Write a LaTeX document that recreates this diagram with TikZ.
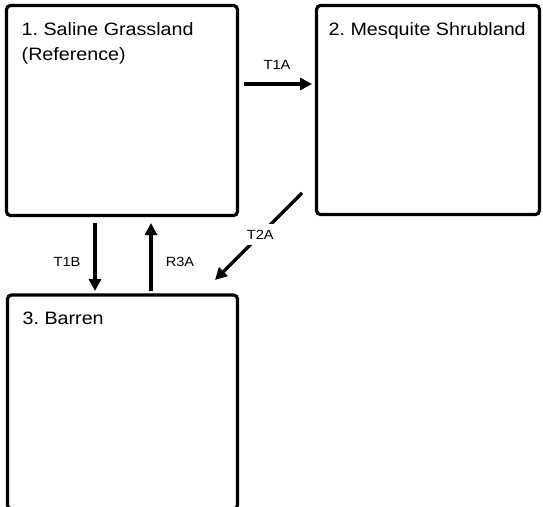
\documentclass[tikz,border=0pt]{standalone}
\usepackage{fontspec}
\setmainfont{Liberation Sans}[FakeStretch=1.1]
\usetikzlibrary{arrows.meta,positioning}
\frenchspacing

\begin{document}
\begin{tikzpicture}[
            x=1pt, y=-1pt,
            state/.style={
                    rectangle,
                    rounded corners=4pt,
                    draw=black,
                    line width=3.2pt,
                    inner sep=0pt,
                    outer sep=0pt
                },
            title/.style={
                    inner sep=0pt,
                    align=left,
                    font=\fontsize{17.9}{25}\selectfont
                },
            tlabel/.style={
                    inner sep=1pt,
                    font=\fontsize{13.3}{15}\selectfont
                },
            link/.style={
                    line width=3.2pt,
                    -{Triangle[length=12pt,width=12pt]}
                },
            node distance=16.5pt and 15pt
        ]

        \clip (0,0) rectangle (543,506);

        % states
        \node[state, minimum width=231pt, minimum height=210pt] (grass) at (122,110.5) {};
        \node[state, minimum width=223pt, minimum height=209pt] (shrub) at (428,110) {};
        \node[state, minimum width=230pt, minimum height=214pt] (barren) at (122.5,402) {};

        \node[title, below right=of grass.north west] (grasstitle) {1. Saline Grassland\\(Reference)};
        \node[title, below right=16.5pt and 12pt of shrub.north west] (shrubtitle) {2. Mesquite Shrubland};
        \node[title, below right=of barren.north west] (barrentitle) {3. Barren};

        % transitions
        \coordinate (t1a start) at (244,84);
        \coordinate (t1a end) at (312,84);
        \draw[link] (t1a start) -- (t1a end);
        \node[tlabel] (t1a) at (277,65) {T1A};

        \coordinate (t1b start) at (95,223);
        \coordinate (t1b end) at (95,291);
        \draw[link] (t1b start) -- (t1b end);
        \node[tlabel] (t1b) at (67,262) {T1B};

        \coordinate (r3a start) at (151,291);
        \coordinate (r3a end) at (151,223);
        \draw[link] (r3a start) -- (r3a end);
        \node[tlabel] (r3a) at (180,262) {R3A};

        \coordinate (t2a start) at (302,193);
        \coordinate (t2a end) at (215,280);
        \draw[link] (t2a start) -- node[tlabel, fill=white, inner sep=6pt, pos=0.48] (t2a) {T2A} (t2a end);

    \end{tikzpicture}
\end{document}
